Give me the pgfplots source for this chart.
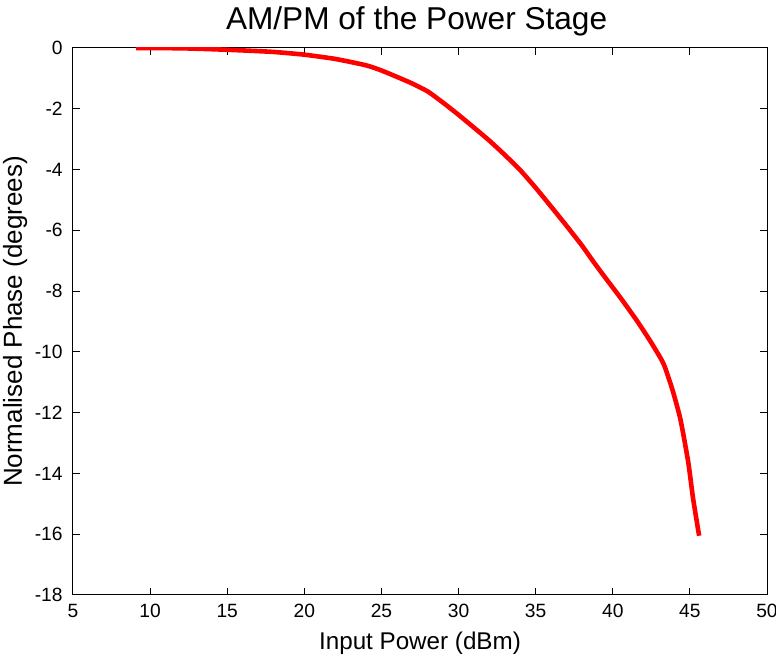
\documentclass[border=0pt]{standalone}
\usepackage{pgfplots}
\pgfplotsset{compat=1.18}
\usepackage{fontspec}
\setmainfont{Liberation Sans}
\begin{document}
\begin{tikzpicture}
\begin{axis}[
  scale only axis,
  width=347pt, height=273.5pt,
  xmin=5, xmax=50, ymin=-18, ymax=0,
  xtick={5,10,...,50}, ytick={-18,-16,...,0},
  tick align=inside,
  major tick length=3.7pt,
  tick style={black, line width=0.5pt},
  axis line style={line width=0.5pt},
  /pgf/number format/assume math mode=true,
  ticklabel style={font=\fontsize{9.6}{11}\selectfont},
  xticklabel style={anchor=base, inner sep=0pt, yshift=-11.5pt},
  yticklabel style={anchor=east, inner sep=0pt, xshift=-5pt},
  xlabel={Input Power (dBm)},
  ylabel={Normalised Phase (degrees)},
  title={AM/PM of the Power Stage},
  title style={font=\fontsize{15.8}{18}\selectfont, at={(axis description cs:0.5,1)}, anchor=base, inner sep=0pt, yshift=3pt, xshift=-1.7pt},
  xlabel style={font=\fontsize{12.1}{14}\selectfont, at={(axis description cs:0.5,0)}, anchor=base, inner sep=0pt, yshift=-27.5pt},
  ylabel style={font=\fontsize{13}{15}\selectfont, at={(axis description cs:-0.0735,0.5)}, anchor=base, inner sep=0pt},
]
\addplot[red, line width=2.3pt, line join=round, smooth, tension=0.35] coordinates {
(9.1,0) (12,-0.01) (14,-0.04) (16,-0.08) (18,-0.13) (20,-0.22) (22,-0.36)
(24,-0.57) (25,-0.74) (26,-0.95) (27,-1.17) (28,-1.43) (29,-1.8) (30,-2.2)
(31,-2.62) (32,-3.05) (33,-3.52) (34,-4.02) (35,-4.6) (36,-5.22)
(37,-5.85) (38,-6.5) (38.7,-7.0) (39.5,-7.55) (40.5,-8.22) (41.6,-9.0)
(42.5,-9.7) (43.3,-10.4) (43.9,-11.3) (44.4,-12.25) (44.9,-13.65) (45.2,-14.8)
(45.6,-16.05)
};
\end{axis}
\pgfresetboundingbox
\useasboundingbox ([xshift=-36.5pt, yshift=-30.5pt] current axis.south west) rectangle ([xshift=4.5pt, yshift=24pt] current axis.north east);
\end{tikzpicture}
\end{document}
